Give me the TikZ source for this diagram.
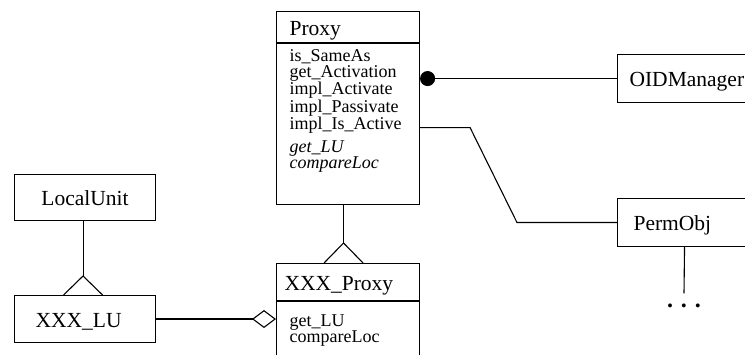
\documentclass[tikz,border=0pt]{standalone}
\usepackage{fontspec}
\setmainfont{Liberation Serif}
\usetikzlibrary{arrows.meta,positioning}

\newcommand{\headfont}{\fontsize{21.5}{24}\selectfont}
\newcommand{\opfont}{\fontsize{18}{15.8}\selectfont}

\tikzset{
    classhead/.style={draw, anchor=north west, inner xsep=13pt, inner ysep=0pt,
        text width=117pt, align=left, text height=16pt, text depth=0pt, font=\headfont},
    classops/.style={draw, inner xsep=13pt, inner ysep=0pt,
        text width=117pt, align=left, font=\opfont},
    plainbox/.style={draw, anchor=north west, inner ysep=0pt, minimum height=48pt,
        text height=16pt, text depth=0pt, font=\headfont},
}

\begin{document}
\begin{tikzpicture}[x=1pt, y=-1pt, line width=1.1pt]
    \useasboundingbox (0,0) rectangle (745,355);
    \clip (0,0) rectangle (745,355);

    % Proxy
    \node[classhead, minimum height=31pt] (proxy) at (276,11) {Proxy};
    \node[classops, text height=18pt, text depth=143pt, below=0pt of proxy] (proxyops)
        {is\_SameAs\\get\_Activation\\impl\_Activate\\impl\_Passivate\\impl\_Is\_Active\\[7.6pt]
         \textit{get\_LU}\\\textit{compareLoc}};

    % XXX_Proxy
    \node[classhead, minimum height=37pt, inner xsep=8pt, text width=127pt] (xproxy) at (276,263) {XXX\_Proxy};
    \node[classops, text height=25pt, text depth=60pt, below=0pt of xproxy] (xproxyops)
        {get\_LU\\compareLoc};

    % LocalUnit, XXX_LU
    \node[plainbox, minimum width=141pt, minimum height=46pt] (localunit) at (14,174) {LocalUnit};
    \node[plainbox, minimum height=47pt, inner xsep=21pt, text width=99pt, align=left] (xlu) at (14,295) {XXX\_LU};

    % OIDManager, PermObj
    \node[plainbox, inner xsep=12pt] (oid) at (617,54) {OIDManager};
    \node[plainbox, inner xsep=16pt, text width=102pt, align=left] (permobj) at (617,198) {PermObj};
    \node[font=\fontsize{24}{24}\selectfont\bfseries, inner sep=0pt, anchor=base] (more) at (684,307.5)
        {.\hspace{8pt}.\hspace{8pt}.};

    % inheritance
    \coordinate (lubase) at ([xshift=-2pt]xlu.north);
    \draw (localunit.south -| lubase) -- ([yshift=19pt]lubase);
    \draw ([xshift=-19.5pt]lubase) -- ([yshift=19pt]lubase) -- ([xshift=19.5pt]lubase);

    \coordinate (xpbase) at ([xshift=-4.5pt]xproxy.north);
    \draw (proxyops.south -| xpbase) -- ([yshift=20pt]xpbase);
    \draw ([xshift=-19.5pt]xpbase) -- ([yshift=20pt]xpbase) -- ([xshift=19.5pt]xpbase);

    % aggregation
    \draw[-{Diamond[open, length=24pt, width=18pt]}] (xlu.east) -- (xlu.east -| xproxyops.west);

    % associations
    \draw[{Circle[length=15pt, width=15pt]}-] (proxyops.east |- oid.west) -- (oid.west);
    \draw ([yshift=-3.5pt]proxyops.east) -- ++(50,0) -- ([xshift=-100pt]permobj.west) -- (permobj.west);
    \draw (permobj.south) -- ([yshift=10pt]more.north);
\end{tikzpicture}
\end{document}
